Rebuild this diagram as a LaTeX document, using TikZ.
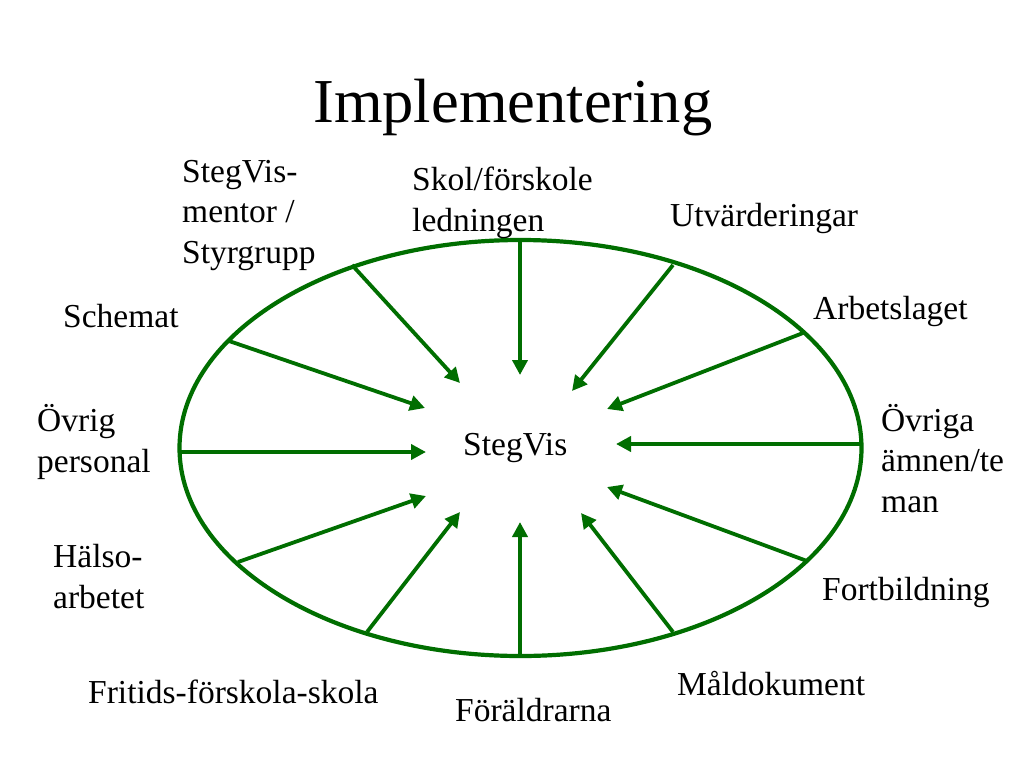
\documentclass[tikz,border=0pt]{standalone}
\usepackage{fontspec}
\setmainfont{Liberation Serif}
\usetikzlibrary{arrows.meta}
\definecolor{arrowgreen}{RGB}{0,110,0}
\begin{document}
\begin{tikzpicture}[x=1pt,y=-1pt,
  lbl/.style={inner sep=0pt,anchor=base west,align=left,
    font=\fontsize{33.5}{40.5}\selectfont},
  ring/.style={draw=arrowgreen,line width=4.2pt},
  spoke/.style={draw=arrowgreen,line width=3.8pt,
    -{Triangle[length=15pt,width=15pt]}}]
\useasboundingbox[fill=white] (0,0) rectangle (1024,768);
% title
\node[inner sep=0pt,anchor=base west,font=\fontsize{62.5}{70}\selectfont] (title) at (313,122) {Implementering};
% ellipse
\draw[ring] (520.5,448) ellipse [x radius=341,y radius=208];
% spoke coordinates (start on ellipse, end near centre)
\coordinate (s1) at (352,265);  \coordinate (e1) at (460,383);
\coordinate (s2) at (520,240);  \coordinate (e2) at (520,375);
\coordinate (s3) at (673,265);  \coordinate (e3) at (572,391);
\coordinate (s4) at (803,333);  \coordinate (e4) at (607,409);
\coordinate (s5) at (862,444);  \coordinate (e5) at (616,444);
\coordinate (s6) at (807,561);  \coordinate (e6) at (607,487);
\coordinate (s7) at (673,632);  \coordinate (e7) at (581,513);
\coordinate (s8) at (520,656);  \coordinate (e8) at (520,522);
\coordinate (s9) at (367,632);  \coordinate (e9) at (460,512);
\coordinate (s10) at (238,562); \coordinate (e10) at (426,496);
\coordinate (s11) at (180,452); \coordinate (e11) at (426,452);
\coordinate (s12) at (229,341); \coordinate (e12) at (425,408);
\foreach \i in {1,...,12}{\draw[spoke] (s\i) -- (e\i);}
% labels (multi-line nodes: base = baseline of last line)
\node[lbl] (centre) at (463,455) {StegVis};
\node[lbl] (mentor) at (182,263) {StegVis-\\mentor /\\Styrgrupp};
\node[lbl] (skol) at (412,231) {Skol/förskole\\ledningen};
\node[lbl] (utv) at (670,226) {Utvärderingar};
\node[lbl] (arb) at (813,319) {Arbetslaget};
\node[lbl] (ovriga) at (881,512) {Övriga\\ämnen/te\\man};
\node[lbl] (fort) at (822,600) {Fortbildning};
\node[lbl] (mal) at (677,695) {Måldokument};
\node[lbl] (foral) at (455,721) {Föräldrarna};
\node[lbl] (frit) at (88,703) {Fritids-förskola-skola};
\node[lbl] (halso) at (53,608) {Hälso-\\arbetet};
\node[lbl] (ovrig) at (37,472) {Övrig\\personal};
\node[lbl] (schem) at (63,327) {Schemat};
\end{tikzpicture}
\end{document}
